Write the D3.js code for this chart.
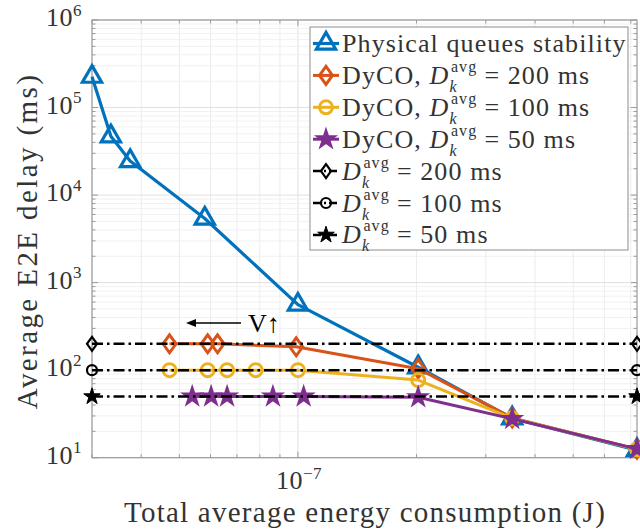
<!DOCTYPE html>
<html>
<head>
<meta charset="utf-8">
<script src="https://cdn.jsdelivr.net/npm/d3@7/dist/d3.min.js"></script>
<style>
  html, body { margin: 0; padding: 0; background: #fff; }
  svg { display: block; }
  text { font-family: "Liberation Serif", "DejaVu Serif", serif; fill: #333; }
</style>
</head>
<body>
<svg id="chart" width="640" height="530"></svg>
<script>
// ---------------- data ----------------
const xPhysical = [3.0e-8, 3.35e-8, 3.75e-8, 5.8e-8, 1.0e-7, 2.02e-7, 3.5e-7, 7.26e-7];
const yPhysical = [2.25e5, 4.7e4, 2.45e4, 5.4e3, 560, 108, 28.2, 12.2];

const xDyco200 = [4.72e-8, 5.9e-8, 6.25e-8, 9.9e-8, 2.02e-7, 3.5e-7, 7.26e-7];
const yDyco200 = [200, 200, 200, 185, 104, 28.5, 12.5];

const xDyco100 = [4.72e-8, 5.9e-8, 6.61e-8, 7.81e-8, 1.0e-7, 2.02e-7, 3.5e-7, 7.26e-7];
const yDyco100 = [100, 100, 100, 100, 100, 77, 28.2, 12.5];

const xDyco50 = [5.39e-8, 6.02e-8, 6.61e-8, 8.64e-8, 1.034e-7, 2.02e-7, 3.5e-7, 7.26e-7];
const yDyco50 = [50, 50, 50, 50, 50, 49, 27.8, 12.6];

const xRef = [3.0e-8, 7.26e-7];
const yRef200 = [200, 200];
const yRef100 = [100, 100];
const yRef50 = [50, 50];

const xDomain = [3.0e-8, 7.26e-7];
const yDomain = [10, 1e6];
const xTickExps = [-7];
const yTickExps = [1, 2, 3, 4, 5, 6];

const legendLabels = [
  {pre: "Physical queues stability"},
  {pre: "DyCO, ", val: " = 200 ms"},
  {pre: "DyCO, ", val: " = 100 ms"},
  {pre: "DyCO, ", val: " = 50 ms"},
  {pre: "", val: " = 200 ms"},
  {pre: "", val: " = 100 ms"},
  {pre: "", val: " = 50 ms"}
];

// ---------------- layout ----------------
const svg = d3.select("#chart");
const L = 92, R = 637, T = 20, B = 457.7;
const x = d3.scaleLog().domain(xDomain).range([L, R]);
const y = d3.scaleLog().domain(yDomain).range([B, T]);

const C = {blue: "#0072BD", orange: "#D95319", yellow: "#EDB120", purple: "#7E2F8E", black: "#000"};
const axisColor = "#9a9a9a";

// ---------------- grid ----------------
const grid = svg.append("g");
const xMinor = [], yMinor = [];
for (let e = -8; e <= -6; e++) for (let m = 1; m <= 9; m++) {
  const v = m * Math.pow(10, e);
  if (v >= xDomain[0] * 0.999 && v <= xDomain[1]) xMinor.push(v);
}
for (let e = 1; e <= 5; e++) for (let m = 1; m <= 9; m++) yMinor.push(m * Math.pow(10, e));
yMinor.push(1e6);
const isMajor = d => Math.abs(Math.log10(d) - Math.round(Math.log10(d))) < 1e-6;

grid.selectAll("line.gx").data(xMinor).join("line")
  .attr("x1", d => x(d)).attr("x2", d => x(d)).attr("y1", T).attr("y2", B)
  .attr("stroke", d => isMajor(d) ? "#e0e0e0" : "#ececec").attr("stroke-width", 1);
grid.selectAll("line.gy").data(yMinor).join("line")
  .attr("x1", L).attr("x2", R).attr("y1", d => y(d)).attr("y2", d => y(d))
  .attr("stroke", d => isMajor(d) ? "#e0e0e0" : "#f1f1f1").attr("stroke-width", 1);

// ---------------- axes ----------------
const ax = svg.append("g");
const xAxisB = d3.axisBottom(x).tickValues(xMinor).tickSize(0).tickFormat("");
const xAxisBG = ax.append("g").attr("transform", `translate(0,${B})`).call(xAxisB);
xAxisBG.select(".domain").remove();
ax.selectAll("line.tb").data(xMinor).join("line")
  .attr("x1", d => x(d)).attr("x2", d => x(d)).attr("y1", B).attr("y2", d => B - (isMajor(d) ? 6 : 3.5))
  .attr("stroke", axisColor);
ax.selectAll("line.tt").data(xMinor).join("line")
  .attr("x1", d => x(d)).attr("x2", d => x(d)).attr("y1", T).attr("y2", d => T + (isMajor(d) ? 6 : 3.5))
  .attr("stroke", axisColor);
ax.selectAll("line.tl").data(yMinor).join("line")
  .attr("x1", L).attr("x2", d => L + (isMajor(d) ? 6 : 3.5)).attr("y1", d => y(d)).attr("y2", d => y(d))
  .attr("stroke", axisColor);
ax.selectAll("line.tr").data(yMinor).join("line")
  .attr("x1", R).attr("x2", d => R - (isMajor(d) ? 6 : 3.5)).attr("y1", d => y(d)).attr("y2", d => y(d))
  .attr("stroke", axisColor);
ax.append("rect").attr("x", L).attr("y", T).attr("width", R - L).attr("height", B - T)
  .attr("fill", "none").attr("stroke", axisColor).attr("stroke-width", 1.2);

// tick labels
const tickFont = 26, expFont = 17;
const yl = svg.append("g");
yTickExps.forEach(e => {
  const t = yl.append("text").attr("x", 82).attr("y", y(Math.pow(10, e)) + 6)
    .attr("text-anchor", "end").style("font-size", tickFont + "px").style("letter-spacing", "0.5px");
  t.append("tspan").text("10");
  t.append("tspan").text(String(e)).style("font-size", expFont + "px").attr("dy", -10.5);
});
xTickExps.forEach(e => {
  const t = svg.append("text").attr("x", x(Math.pow(10, e)) + 1).attr("y", 489)
    .attr("text-anchor", "middle").style("font-size", tickFont + "px").style("letter-spacing", "0.5px");
  t.append("tspan").text("10");
  t.append("tspan").text("\u2212" + Math.abs(e)).style("font-size", expFont + "px").attr("dy", -10.5);
});

// axis labels
svg.append("text").attr("x", 365).attr("y", 522).attr("text-anchor", "middle")
  .style("font-size", "29px").style("letter-spacing", "1.25px")
  .text("Total average energy consumption (J)");
svg.append("text").attr("transform", "translate(37,241) rotate(-90)").attr("text-anchor", "middle")
  .style("font-size", "29px").style("letter-spacing", "2.4px")
  .text("Average E2E delay (ms)");

// ---------------- markers ----------------
function diamondPath(w, h) {
  return `M0,${-h/2}L${w/2},0L0,${h/2}L${-w/2},0Z`;
}
const markerDefs = {
  tri:   {path: d3.symbol(d3.symbolTriangle, 160)(), fill: "none", sw: 3.2},
  dia:   {path: diamondPath(13, 18), fill: "none", sw: 3},
  circ:  {path: d3.symbol(d3.symbolCircle, Math.PI * 6.5 * 6.5)(), fill: "none", sw: 3},
  star:  {path: d3.symbol(d3.symbolStar, 120)(), fill: "cur", sw: 1.5},
  kdia:  {path: diamondPath(10, 14), fill: "none", sw: 2.2},
  kcirc: {path: d3.symbol(d3.symbolCircle, Math.PI * 5 * 5)(), fill: "none", sw: 2.2},
  kstar: {path: d3.symbol(d3.symbolStar, 85)(), fill: "cur", sw: 1}
};
function drawMarker(g, px, py, m, color) {
  const md = markerDefs[m];
  g.append("path").attr("d", md.path).attr("transform", `translate(${px},${py})`)
    .attr("fill", md.fill === "cur" ? color : "none")
    .attr("stroke", color).attr("stroke-width", md.sw).attr("stroke-linejoin", "miter");
}

const series = [
  {xs: xPhysical, ys: yPhysical, color: C.blue, m: "tri", dash: null, w: 3.2},
  {xs: xDyco200, ys: yDyco200, color: C.orange, m: "dia", dash: null, w: 3},
  {xs: xDyco100, ys: yDyco100, color: C.yellow, m: "circ", dash: null, w: 3},
  {xs: xDyco50, ys: yDyco50, color: C.purple, m: "star", dash: null, w: 3},
  {xs: xRef, ys: yRef200, color: C.black, m: "kdia", dash: "11,4,2.5,4", w: 2.5},
  {xs: xRef, ys: yRef100, color: C.black, m: "kcirc", dash: "11,4,2.5,4", w: 2.5},
  {xs: xRef, ys: yRef50, color: C.black, m: "kstar", dash: "11,4,2.5,4", w: 2.5}
];
const line = d3.line().x(d => x(d[0])).y(d => y(d[1]));
const plot = svg.append("g");
series.forEach(s => {
  const g = plot.append("g");
  const pts = s.xs.map((v, i) => [v, s.ys[i]]);
  g.append("path").attr("d", line(pts)).attr("fill", "none").attr("stroke", s.color)
    .attr("stroke-width", s.w).attr("stroke-dasharray", s.dash).attr("stroke-linejoin", "round");
  pts.forEach(p => drawMarker(g, x(p[0]), y(p[1]), s.m, s.color));
});

// ---------------- annotation ----------------
const ann = svg.append("g");
ann.append("line").attr("x1", 241).attr("x2", 190).attr("y1", 323).attr("y2", 323)
  .attr("stroke", "#000").attr("stroke-width", 1.5);
ann.append("path").attr("d", "M186,323 L196,319 L196,327 Z").attr("fill", "#000");
ann.append("text").attr("x", 248).attr("y", 332).style("font-size", "26px").style("fill", "#000")
  .text("V\u2191");

// ---------------- legend ----------------
const leg = svg.append("g");
const LX = 310, LY = 27, LW = 318, LH = 223;
leg.append("rect").attr("x", LX).attr("y", LY).attr("width", LW).attr("height", LH)
  .attr("fill", "#fff").attr("stroke", "#a0a0a0").attr("stroke-width", 1.2);
const legFont = 26, legSmall = 16, legLS = 1.1;
function measure(str, size, italic) {
  const t = svg.append("text").style("font-size", size + "px").style("font-style", italic ? "italic" : "normal")
    .style("letter-spacing", legLS + "px").text(str);
  const w = t.node().getComputedTextLength();
  t.remove();
  return w;
}
series.forEach((s, i) => {
  const cy = 43.5 + i * 31.9;
  const g = leg.append("g");
  g.append("line").attr("x1", 313).attr("x2", 339).attr("y1", cy).attr("y2", cy)
    .attr("stroke", s.color).attr("stroke-width", s.w).attr("stroke-dasharray", s.dash ? "8,3,2,3" : null);
  drawMarker(g, 326, cy, s.m, s.color);
  const lab = legendLabels[i];
  const tx = 342, ty = cy + 8.5;
  const t = g.append("text").attr("x", tx).attr("y", ty).style("font-size", legFont + "px")
    .style("letter-spacing", legLS + "px");
  t.append("tspan").text(lab.pre);
  if (lab.val) {
    const wAvg = measure("avg", legSmall, false);
    const wK = measure("k", legSmall, true);
    t.append("tspan").text("D").style("font-style", "italic");
    t.append("tspan").text("avg").style("font-size", legSmall + "px").attr("dy", -12).attr("dx", 1.5);
    t.append("tspan").text("k").style("font-size", legSmall + "px").style("font-style", "italic")
      .attr("dx", -(wAvg + 1.5)).attr("dy", 20);
    t.append("tspan").text(lab.val).attr("dx", wAvg - wK + 1).attr("dy", -8);
  }
});
</script>
</body>
</html>
